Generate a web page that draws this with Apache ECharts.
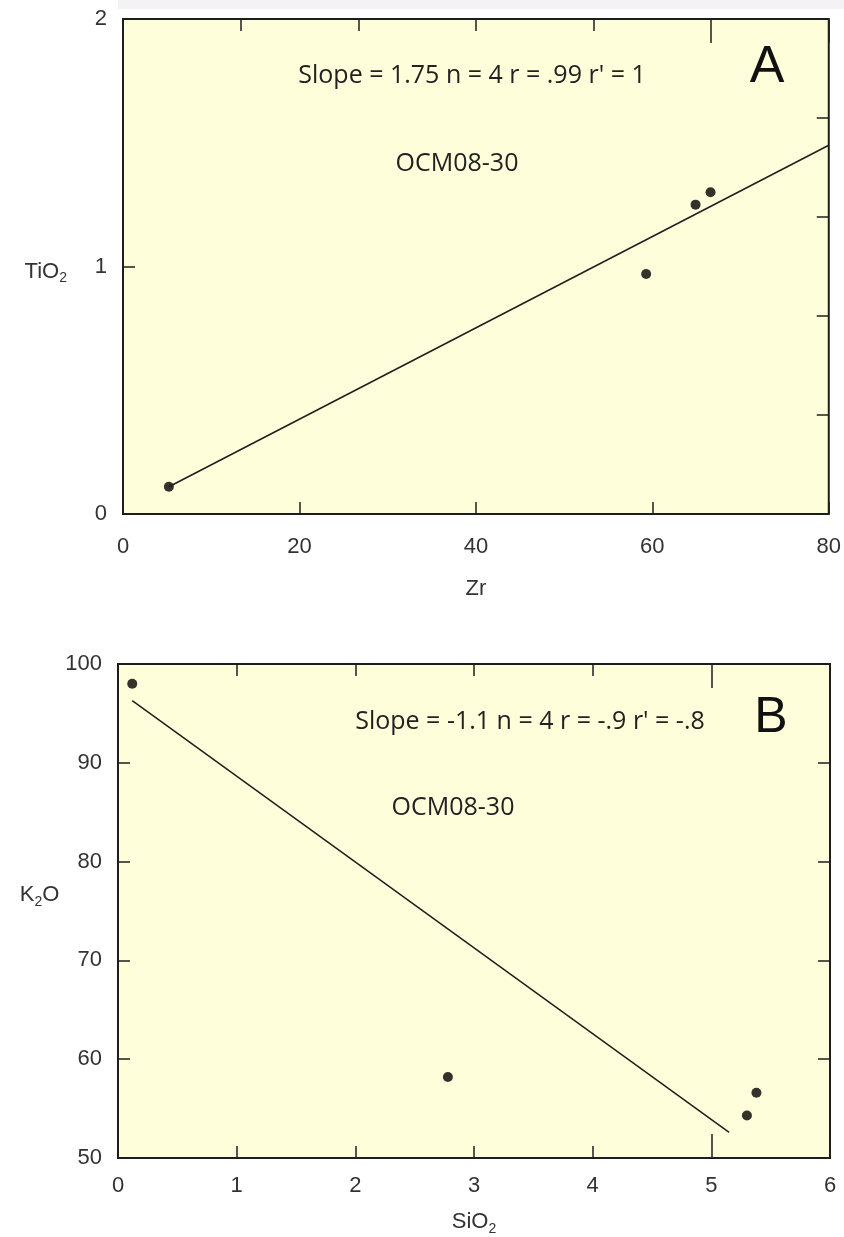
<!DOCTYPE html>
<html>
<head>
<meta charset="utf-8">
<script src="https://cdn.jsdelivr.net/npm/echarts@6/dist/echarts.min.js"></script>
<style>
  html, body { margin: 0; padding: 0; background: #fff; }
  #chart { width: 844px; height: 1237px; }
</style>
</head>
<body>
<div id="chart"></div>
<script>
// panel A : TiO2 vs Zr
var zrA = [5.2, 59.3, 64.9, 66.6];
var tio2A = [0.11, 0.97, 1.25, 1.30];
var fitZrA = [5.2, 80];
var fitTio2A = [0.11, 1.49];

// panel B : K2O vs SiO2
var sio2B = [0.12, 2.78, 5.30, 5.38];
var k2oB = [98.0, 58.2, 54.3, 56.6];
var fitSio2B = [0.12, 5.15];
var fitK2oB = [96.3, 52.6];

var ticksXA = [0, 20, 40, 60, 80];
var ticksYA = [0, 1, 2];
var ticksXB = [0, 1, 2, 3, 4, 5, 6];
var ticksYB = [50, 60, 70, 80, 90, 100];

function pairs(xs, ys) {
    return xs.map(function (x, i) { return [x, ys[i]]; });
}

var ink = '#1e1e1e';
var labelFont = '"Liberation Sans Narrow", "Liberation Sans", Arial, sans-serif';
var noteFont = '"Open Sans", "Noto Sans", sans-serif';

// axis that only draws inward ticks on the frame
function frameAxis(opt) {
    var base = {
        type: 'value',
        axisLine: { show: false, onZero: false },
        splitLine: { show: false },
        axisTick: { show: true, inside: true, length: 12, lineStyle: { color: ink, width: 1.5 } },
        axisLabel: { show: false }
    };
    for (var k in opt) base[k] = opt[k];
    return base;
}
var longTick = { show: true, inside: true, length: 24, lineStyle: { color: ink, width: 1.5 } };
var tickLabel = { show: true, fontSize: 22, color: '#333', fontFamily: labelFont };
function withMargin(m) {
    var o = {};
    for (var k in tickLabel) o[k] = tickLabel[k];
    o.margin = m;
    return o;
}

var nameRich = {
    n: { fontSize: 22, lineHeight: 28, color: '#333', fontFamily: labelFont },
    s: { fontSize: 14, lineHeight: 10, verticalAlign: 'bottom', color: '#333', fontFamily: labelFont }
};

var chart = echarts.init(document.getElementById('chart'));
var option = {
    animation: false,
    backgroundColor: '#ffffff',
    grid: [
        { left: 123, top: 19, width: 707, height: 495, show: true, backgroundColor: '#FFFEDA', borderColor: ink, borderWidth: 2 },
        { left: 118, top: 664, width: 712, height: 494, show: true, backgroundColor: '#FFFEDA', borderColor: ink, borderWidth: 2 }
    ],
    xAxis: [
        frameAxis({
            gridIndex: 0, position: 'bottom', min: ticksXA[0], max: ticksXA[ticksXA.length - 1], interval: 20,
            axisLabel: withMargin(22),
            name: 'Zr', nameLocation: 'middle', nameGap: 64,
            nameTextStyle: { fontSize: 22, color: '#333', fontFamily: labelFont }
        }),
        frameAxis({ gridIndex: 0, position: 'top', min: 0, max: 80, interval: 80 / 6 }),
        frameAxis({ gridIndex: 0, position: 'top', min: 0, max: 80, interval: 200 / 3, axisTick: longTick }),
        frameAxis({
            gridIndex: 1, position: 'bottom', min: ticksXB[0], max: ticksXB[ticksXB.length - 1], interval: 1,
            axisLabel: withMargin(17),
            name: '{n|SiO}{s|2}', nameLocation: 'middle', nameGap: 50,
            nameTextStyle: { rich: nameRich }
        }),
        frameAxis({ gridIndex: 1, position: 'top', min: 0, max: 6, interval: 1 }),
        frameAxis({ gridIndex: 1, position: 'top', min: 0, max: 6, interval: 5, axisTick: longTick }),
        frameAxis({ gridIndex: 1, position: 'bottom', min: 0, max: 6, interval: 5, axisTick: longTick })
    ],
    yAxis: [
        frameAxis({
            gridIndex: 0, position: 'left', min: ticksYA[0], max: ticksYA[ticksYA.length - 1], interval: 1,
            axisLabel: withMargin(16),
            name: '{n|TiO}{s|2}', nameLocation: 'middle', nameRotate: 0, nameGap: 56,
            nameTextStyle: { rich: nameRich, align: 'right', padding: [10, 0, 0, 0] }
        }),
        frameAxis({ gridIndex: 0, position: 'right', min: 0, max: 2, interval: 0.4 }),
        frameAxis({
            gridIndex: 1, position: 'left', min: ticksYB[0], max: ticksYB[ticksYB.length - 1], interval: 10,
            axisLabel: withMargin(16),
            name: '{n|K}{s|2}{n|O}', nameLocation: 'middle', nameRotate: 0, nameGap: 56,
            nameTextStyle: { rich: nameRich, align: 'right', padding: [0, 0, 32, 0] }
        }),
        frameAxis({ gridIndex: 1, position: 'right', min: 50, max: 100, interval: 10 })
    ],
    series: [
        {
            type: 'line', xAxisIndex: 0, yAxisIndex: 0,
            data: pairs(fitZrA, fitTio2A), showSymbol: false,
            lineStyle: { color: ink, width: 1.5 }
        },
        {
            type: 'scatter', xAxisIndex: 0, yAxisIndex: 0,
            data: pairs(zrA, tio2A), symbolSize: 10,
            itemStyle: { color: '#000' }
        },
        {
            type: 'line', xAxisIndex: 3, yAxisIndex: 2,
            data: pairs(fitSio2B, fitK2oB), showSymbol: false,
            lineStyle: { color: ink, width: 1.5 }
        },
        {
            type: 'scatter', xAxisIndex: 3, yAxisIndex: 2,
            data: pairs(sio2B, k2oB), symbolSize: 10,
            itemStyle: { color: '#000' }
        }
    ],
    graphic: [
        { type: 'rect', left: 118, top: 0, shape: { width: 726, height: 9 }, style: { fill: '#F4F2F4' }, silent: true },
        { type: 'text', x: 472, y: 76, style: { text: "Slope = 1.75 n = 4 r = .99 r' = 1", font: '25px ' + noteFont, fill: '#222', textAlign: 'center', textVerticalAlign: 'middle' } },
        { type: 'text', x: 457, y: 164, style: { text: 'OCM08-30', font: '25px ' + noteFont, fill: '#222', textAlign: 'center', textVerticalAlign: 'middle' } },
        { type: 'text', x: 767, y: 68, style: { text: 'A', font: '52px "Liberation Sans", Arial, sans-serif', fill: '#111', textAlign: 'center', textVerticalAlign: 'middle' } },
        { type: 'text', x: 530, y: 722, style: { text: "Slope = -1.1 n = 4 r = -.9 r' = -.8", font: '25px ' + noteFont, fill: '#222', textAlign: 'center', textVerticalAlign: 'middle' } },
        { type: 'text', x: 453, y: 808, style: { text: 'OCM08-30', font: '25px ' + noteFont, fill: '#222', textAlign: 'center', textVerticalAlign: 'middle' } },
        { type: 'text', x: 771, y: 718, style: { text: 'B', font: '50px "Liberation Sans", Arial, sans-serif', fill: '#111', textAlign: 'center', textVerticalAlign: 'middle' } }
    ]
};
chart.setOption(option);
</script>
</body>
</html>
